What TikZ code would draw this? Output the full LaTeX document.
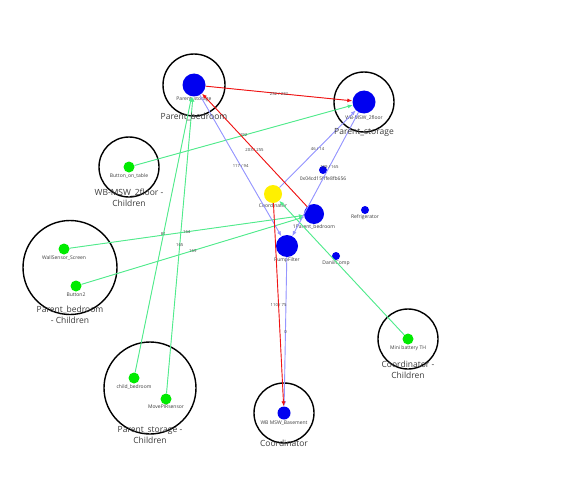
\documentclass[tikz,border=0pt]{standalone}
\usepackage{fontspec}
\setmainfont{Open Sans}
\usetikzlibrary{arrows.meta}
\definecolor{eGreen}{RGB}{80,235,140}
\definecolor{eBlue}{RGB}{150,150,255}
\definecolor{eRed}{RGB}{240,20,20}
\definecolor{nBlue}{RGB}{0,0,240}
\definecolor{nGreen}{RGB}{0,235,0}
\definecolor{nYellow}{RGB}{255,240,0}
\definecolor{txt}{RGB}{60,60,60}
\tikzset{
  dev/.style={circle, inner sep=0pt, draw=none, label distance=1.6pt},
  bdev/.style={dev, fill=nBlue},
  gdev/.style={dev, fill=nGreen},
  ydev/.style={dev, fill=nYellow},
  nlab/.style={font=\fontsize{5}{6}\selectfont, text=txt, inner sep=0.5pt},
  grp/.style={circle, draw=black, line width=1.4pt, inner sep=0pt},
  glab/.style={font=\fontsize{8.5}{11}\selectfont, text=txt, align=center, inner sep=0pt},
  link/.style={line width=0.9pt, -{Latex[length=5pt,width=4pt]}},
  lred/.style={link, draw=eRed, fill=eRed},
  lblue/.style={link, draw=eBlue, fill=eBlue},
  lgreen/.style={link, draw=eGreen, fill=eGreen},
  elab/.style={font=\fontsize{4.2}{5}\selectfont, text=txt, inner sep=0pt, midway, fill=none}
}
\begin{document}
\begin{tikzpicture}[x=1pt,y=-1pt]
\useasboundingbox[fill=white] (0,0) rectangle (580,500);

% group circles
\node[grp, minimum size=62pt] (c1) at (194,85) {};
\node[grp, minimum size=60pt] (c2) at (364,102) {};
\node[grp, minimum size=60pt] (c3) at (129,167) {};
\node[grp, minimum size=94pt] (c4) at (70,267.5) {};
\node[grp, minimum size=92pt] (c5) at (150,388) {};
\node[grp, minimum size=60pt] (c6) at (284,413) {};
\node[grp, minimum size=60pt] (c7) at (408,339) {};

% devices
\node[bdev, minimum size=23pt, label={[nlab]below:Parent\_storage}] (ps) at (194,85) {};
\node[bdev, minimum size=23pt, label={[nlab, yshift=-1pt]below:WB-MSW\_2floor}] (wb2) at (364,102) {};
\node[gdev, minimum size=11pt, label={[nlab]below:Button\_on\_table}] (bot) at (129,167) {};
\node[ydev, minimum size=18pt, label={[nlab]below:Coordinator}] (coord) at (273,194) {};
\node[bdev, minimum size=20pt, label={[nlab]below:1Parent\_bedroom}] (pb1) at (314,214) {};
\node[bdev, minimum size=22pt, label={[nlab]below:PumpFilter}] (pump) at (287,246) {};
\node[bdev, minimum size=8pt, label={[nlab, yshift=-1.5pt]below:0x04cd15fffe8fb656}] (x04) at (323,170) {};
\node[bdev, minimum size=8pt, label={[nlab]below:Refrigerator}] (fridge) at (365,210) {};
\node[bdev, minimum size=8pt, label={[nlab]below:DaniilComp}] (dan) at (336,256) {};
\node[gdev, minimum size=11pt, label={[nlab]below:WallSensor\_Screen}] (ws) at (64,249) {};
\node[gdev, minimum size=11pt, label={[nlab]below:Button2}] (b2) at (76,286) {};
\node[gdev, minimum size=11pt, label={[nlab]below:child\_bedroom}] (cb) at (134,378) {};
\node[gdev, minimum size=11pt, label={[nlab]below:MovePIRsensor}] (pir) at (166,399) {};
\node[bdev, minimum size=13pt, label={[nlab]below:WB MSW\_Basement}] (base) at (284,413) {};
\node[gdev, minimum size=11pt, label={[nlab]below:Mini battery TH}] (mini) at (408,339) {};

% links
\draw[lgreen] (bot) -- (wb2) node[elab] {192};
\draw[lgreen] (ws) -- (pb1) node[elab] {164};
\draw[lgreen] (b2) -- (pb1) node[elab] {169};
\draw[lgreen] (cb) -- (ps) node[elab] {81};
\draw[lgreen] (pir) -- (ps) node[elab] {165};
\draw[lgreen] (mini) -- (coord);
\draw[lblue] (ps) -- (pump) node[elab] {117 / 94};
\draw[lblue] (coord) -- (wb2) node[elab] {46 / 14};
\draw[lblue] (wb2) -- (pump) node[elab, pos=0.44] {199 / 165};
\draw[lblue] (pump) -- (base) node[elab] {0};
\draw[lred] (ps) -- (wb2) node[elab] {232 / 232};
\draw[lred] (pb1) -- (ps) node[elab] {203 / 255};
\draw[lred] (coord) -- (base) node[elab] {110 / 75};

% group labels
\node[glab] at (c1.south) {Parent\_bedroom};
\node[glab] at (c2.south) {Parent\_storage};
\node[glab] at (c3.south) {WB-MSW\_2floor -\\Children};
\node[glab] at (c4.south) {Parent\_bedroom\\- Children};
\node[glab] at (c5.south) {Parent\_storage -\\Children};
\node[glab] at (c6.south) {Coordinator};
\node[glab] at (c7.south) {Coordinator -\\Children};
\end{tikzpicture}
\end{document}
